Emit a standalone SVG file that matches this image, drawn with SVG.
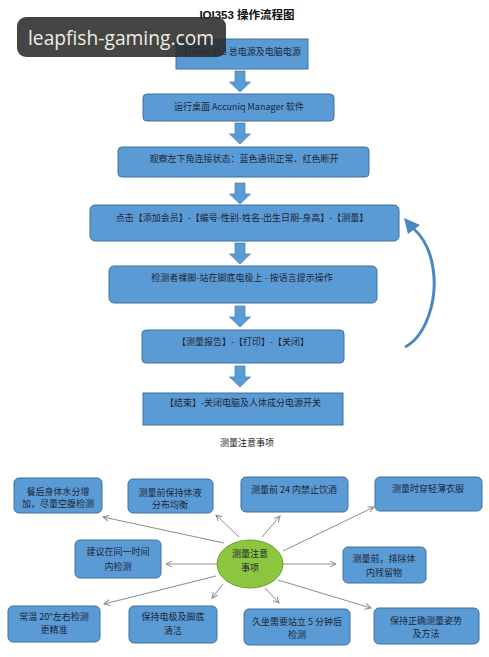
<svg xmlns="http://www.w3.org/2000/svg" xmlns:xlink="http://www.w3.org/1999/xlink" width="489" height="657" viewBox="0 0 489 657">
<style>
  .box{fill:#5b9bd5;stroke:#41719c;stroke-width:1}
  .t{font-family:"Noto Sans CJK SC","Liberation Serif",serif;font-size:9px;fill:#1b2535;text-anchor:middle}
  .title{font-family:"Liberation Sans","Noto Sans CJK SC",sans-serif;font-size:11.5px;font-weight:bold;fill:#111;text-anchor:middle}
  .lbl{font-family:"Noto Sans CJK SC",serif;font-size:9px;fill:#222;text-anchor:middle}
  .ln{stroke:#8c8c8c;stroke-width:1;fill:none;marker-end:url(#ah)}
  .barrow{fill:#5b9bd5;stroke:#4a86c0;stroke-width:0.8}
</style>
<defs>
  <polygon id="ba" class="barrow" points="-5,0 5,0 5,11 10.5,11 0,21 -10.5,11 -5,11"/>
  <marker id="ah" markerWidth="7" markerHeight="7" refX="6" refY="3.5" orient="auto" markerUnits="userSpaceOnUse">
    <path d="M0,0.5 L6,3.5 L0,6.5" fill="none" stroke="#8c8c8c" stroke-width="1"/>
  </marker>
</defs>
<rect width="489" height="657" fill="#ffffff"/>
<text class="title" x="247" y="19">IOI353  操作流程图</text>

<g id="connectors">
  <use xlink:href="#ba" x="240" y="71"/>
  <use xlink:href="#ba" x="240" y="123"/>
  <use xlink:href="#ba" x="240" y="183"/>
  <use xlink:href="#ba" x="240" y="243"/>
  <use xlink:href="#ba" x="240" y="306"/>
  <use xlink:href="#ba" x="240" y="366"/>
  <path d="M405,347 C426,336 438,300 433,268 C430,248 422,236 413,228" fill="none" stroke="#4a86c0" stroke-width="3"/>
  <polygon points="404,218 408,234 420,225" fill="#4a86c0"/>
  <line class="ln" x1="224" y1="543" x2="103" y2="517"/>
  <line class="ln" x1="239" y1="537" x2="216" y2="515"/>
  <line class="ln" x1="262" y1="537" x2="280" y2="516"/>
  <line class="ln" x1="283" y1="551" x2="374" y2="507"/>
  <line class="ln" x1="217" y1="564" x2="166" y2="564"/>
  <line class="ln" x1="283" y1="564" x2="336" y2="564"/>
  <line class="ln" x1="216" y1="576" x2="104" y2="604"/>
  <line class="ln" x1="223" y1="584" x2="212" y2="598"/>
  <line class="ln" x1="265" y1="588" x2="279" y2="603"/>
  <line class="ln" x1="278" y1="580" x2="371" y2="608"/>
</g>

<g id="step1"><rect class="box" x="176" y="39" width="132" height="30"/><text class="t" x="242" y="55">打开ioi353 总电源及电脑电源</text></g>
<g id="step2"><rect class="box" x="143" y="94" width="191" height="27" rx="4"/><text class="t" x="239" y="110">运行桌面 Accuniq Manager 软件</text></g>
<g id="step3"><rect class="box" x="118" y="147" width="251" height="30" rx="4"/><text class="t" x="244" y="162">观察左下角连接状态：蓝色通讯正常、红色断开</text></g>
<g id="step4"><rect class="box" x="90" y="205" width="309" height="36" rx="5"/><text class="t" x="242" y="221">点击【添加会员】-【编号-性别-姓名-出生日期-身高】-【测量】</text></g>
<g id="step5"><rect class="box" x="109" y="266" width="268" height="37" rx="5"/><text class="t" x="242" y="281">检测者裸脚-站在脚底电极上 - 按语言提示操作</text></g>
<g id="step6"><rect class="box" x="142" y="330" width="202" height="33" rx="4"/><text class="t" x="243" y="345">【测量报告】-【打印】-【关闭】</text></g>
<g id="step7"><rect class="box" x="143" y="393" width="200" height="32"/><text class="t" x="243" y="406">【结束】-关闭电脑及人体成分电源开关</text></g>

<text class="lbl" x="247" y="446">测量注意事项</text>

<g id="center"><ellipse cx="250" cy="564" rx="33" ry="24" fill="#8cc63f" stroke="#6a9f35" stroke-width="1"/><text class="t" x="250" y="557">测量注意</text><text class="t" x="250" y="571">事项</text></g>
<g id="n1"><rect class="box" x="14" y="478" width="88" height="35" rx="5"/><text class="t" x="58" y="495">餐后身体水分增</text><text class="t" x="58" y="507">加，尽量空腹检测</text></g>
<g id="n2"><rect class="box" x="128" y="479" width="85" height="34" rx="5"/><text class="t" x="170" y="496">测量前保持体液</text><text class="t" x="170" y="508">分布均衡</text></g>
<g id="n3"><rect class="box" x="241" y="477" width="107" height="35" rx="5"/><text class="t" x="294" y="493">测量前 24 内禁止饮酒</text></g>
<g id="n4"><rect class="box" x="375" y="477" width="107" height="34" rx="5"/><text class="t" x="428" y="492">测量时穿轻薄衣服</text></g>
<g id="n5"><rect class="box" x="75" y="540" width="86" height="38" rx="5"/><text class="t" x="118" y="555">建议在同一时间</text><text class="t" x="118" y="570">内检测</text></g>
<g id="n6"><rect class="box" x="343" y="547" width="83" height="36" rx="5"/><text class="t" x="384" y="562">测量前，排除体</text><text class="t" x="384" y="576">内残留物</text></g>
<g id="n7"><rect class="box" x="8" y="606" width="92" height="36" rx="5"/><text class="t" x="54" y="620">常温 20°左右检测</text><text class="t" x="54" y="633">更精准</text></g>
<g id="n8"><rect class="box" x="129" y="606" width="88" height="37" rx="5"/><text class="t" x="173" y="620">保持电极及脚底</text><text class="t" x="173" y="634">清洁</text></g>
<g id="n9"><rect class="box" x="244" y="609" width="106" height="36" rx="5"/><text class="t" x="297" y="625">久坐需要站立 5 分钟后</text><text class="t" x="297" y="638">检测</text></g>
<g id="n10"><rect class="box" x="374" y="608" width="105" height="36" rx="5"/><text class="t" x="426" y="624">保持正确测量姿势</text><text class="t" x="426" y="637">及方法</text></g>

<g id="watermark">
  <rect x="17" y="17" width="209" height="40" rx="9" fill="#2b2b2b" fill-opacity="0.88"/>
  <text x="28" y="45" font-family="Open Sans, DejaVu Sans, sans-serif" font-size="20" fill="#f2ebe0" textLength="186" lengthAdjust="spacingAndGlyphs">leapfish-gaming.com</text>
</g>
</svg>
